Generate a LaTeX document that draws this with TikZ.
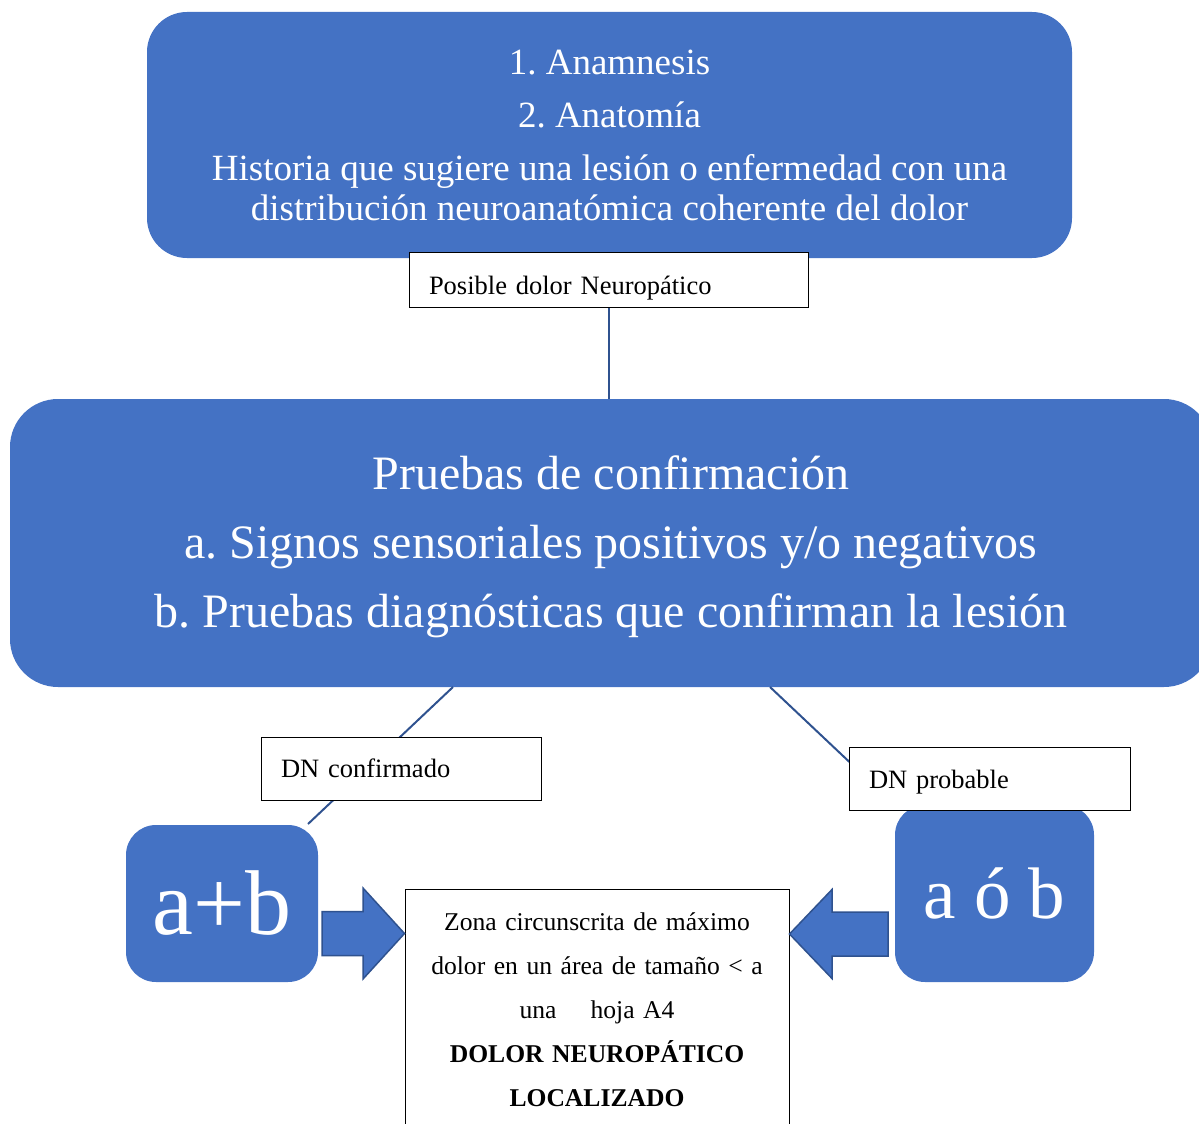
\documentclass[tikz,border=0pt]{standalone}
\usepackage{fontspec}
\setmainfont{Liberation Serif}
\frenchspacing
\definecolor{wordblue}{HTML}{4472C4}
\definecolor{wordline}{HTML}{2F528F}
\tikzset{
  bluebox/.style={fill=wordblue, text=white, align=center, inner sep=0pt},
  tagbox/.style={draw=black, fill=white, line width=1pt, align=left, inner xsep=20pt, inner ysep=0pt,
    font=\fontsize{26.5}{30}\selectfont},
  link/.style={draw=wordline, line width=2pt},
  blockarrow/.style={fill=wordblue, draw=wordline, line width=1.5pt, line join=miter}
}
\begin{document}
\begin{tikzpicture}[x=1pt, y=-1pt]
\useasboundingbox (0,0) rectangle (1199,1124);
\clip (0,0) rectangle (1199,1124);
% blue boxes
\node[bluebox, rounded corners=40pt, minimum width=925pt, minimum height=246pt,
  font=\fontsize{37}{40}\selectfont] (historia) at (609.5,135)
  {1. Anamnesis\\[13pt]2. Anatomía\\[13pt]Historia que sugiere una lesión o enfermedad con una\\distribución neuroanatómica coherente del dolor};
\node[bluebox, rounded corners=48pt, minimum width=1202pt, minimum height=288pt,
  font=\fontsize{48}{69}\selectfont, text depth=2pt] (pruebas) at (611,543)
  {Pruebas de confirmación\\a. Signos sensoriales positivos y/o negativos\\b. Pruebas diagnósticas que confirman la lesión};
\node[bluebox, rounded corners=30pt, minimum width=192pt, minimum height=157pt,
  font=\fontsize{92}{92}\selectfont] (amasb) at (222,903.5) {a+b};
\node[bluebox, rounded corners=30pt, minimum width=199pt, minimum height=177pt,
  font=\fontsize{73}{73}\selectfont] (aob) at (994.5,893.5) {a ó b};
% connectors behind the tags
\coordinate (lstart) at (453,687);
\coordinate (lend) at (308,824);
\coordinate (rstart) at (770,687);
\draw[link] (lstart) -- (lend);
\draw[link] (rstart) -- (aob.north west);
% tags
\node[tagbox, text width=359pt, minimum height=55pt, text height=36pt, text depth=6pt] (posible) at (608.5,279.5) {Posible dolor Neuropático};
\node[tagbox, text width=240pt, minimum height=63pt] (confirmado) at (401,768.5) {DN confirmado};
\node[tagbox, text width=241pt, minimum height=63pt, text height=25pt, text depth=6pt] (probable) at (989.5,778.5) {DN probable};
\draw[link] (posible.south) -- (posible.south |- pruebas.north);
% result box
\node[draw=black, line width=1pt, anchor=north, minimum width=384pt, minimum height=240pt,
  text width=370pt, align=center, inner sep=0pt, font=\fontsize{25.6}{44}\selectfont] (zona) at (597,889)
  {Zona circunscrita de máximo\\dolor en un área de tamaño < a\\una\quad\ hoja A4\\\textbf{DOLOR NEUROPÁTICO}\\\textbf{LOCALIZADO}};
% block arrows
\draw[blockarrow] (322,911.5) -- (363,911.5) -- (363,888) -- (zona.west |- 0,933.5)
  -- (363,979) -- (363,955.5) -- (322,955.5) -- cycle;
\draw[blockarrow] (888,912) -- (832,912) -- (832,889.5) -- (zona.east |- 0,934)
  -- (832,978.5) -- (832,956) -- (888,956) -- cycle;
\end{tikzpicture}
\end{document}
